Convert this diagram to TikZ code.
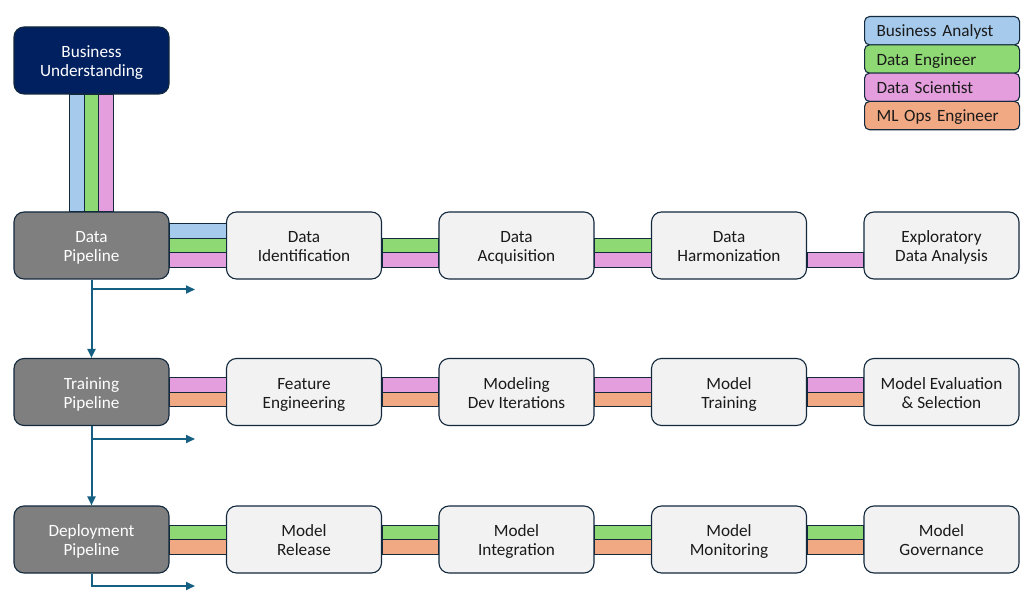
\documentclass[tikz,border=0pt]{standalone}
\usepackage{fontspec}
\setmainfont{Carlito}
\usetikzlibrary{arrows.meta}
\definecolor{navy}{HTML}{002060}
\definecolor{pgray}{HTML}{7F7F7F}
\definecolor{light}{HTML}{F2F2F2}
\definecolor{edge}{HTML}{13293D}
\definecolor{txt}{HTML}{1A1A1A}
\definecolor{arrowc}{HTML}{156082}
\definecolor{cBA}{HTML}{A6CAEC}
\definecolor{cDE}{HTML}{8ED973}
\definecolor{cDS}{HTML}{E49EDD}
\definecolor{cML}{HTML}{F1A983}
\newcommand\hseg[5]{\filldraw[barseg, fill=#5] ([yshift=#3]#1.east) rectangle ([yshift=#4]#2.west);}
\newcommand\tx[2]{\raisebox{-16.3pt}[0pt][0pt]{\begin{tabular}[b]{@{}c@{}}#1\\#2\end{tabular}}}
\newcommand\legtop{\rule{0pt}{17.8pt}\strut}
\begin{document}
\begin{tikzpicture}[x=1pt,y=-1pt,
  box/.style={draw=edge, line width=1.1pt, rounded corners=10pt, minimum width=155pt,
    minimum height=67pt, font=\fontsize{17.2}{19}\selectfont, inner sep=0pt},
  stage/.style={box, fill=light, text=txt},
  pipe/.style={box, fill=pgray, text=white},
  head/.style={box, fill=navy, text=white},
  leg/.style={draw=edge, line width=1.1pt, rounded corners=5pt, minimum width=155pt,
    minimum height=28.3pt, anchor=north west, text width=131pt, align=left,
    inner xsep=12pt, inner ysep=0pt, text=txt, font=\fontsize{17.2}{19}\selectfont,
    execute at begin node=\legtop},
  barseg/.style={draw=edge, line width=0.9pt},
  arr/.style={draw=arrowc, line width=2pt, -{Triangle[length=9pt,width=8pt]}}]
\useasboundingbox (0,0) rectangle (1036,612);
\fill[white] (0,0) rectangle (1036,612);

% legend
\node[leg, fill=cBA] (l1) at (864,16) {Business Analyst};
\node[leg, fill=cDE] (l2) at (864,44.3) {Data Engineer};
\node[leg, fill=cDS] (l3) at (864,72.6) {Data Scientist};
\node[leg, fill=cML] (l4) at (864,100.9) {ML Ops Engineer};

% nodes
\node[head] (bu) at (91.5,60.5) {\tx{Business}{Understanding}};
\node[pipe] (dp) at (91.5,245.5) {\tx{Data}{Pipeline}};
\node[pipe] (tp) at (91.5,392) {\tx{Training}{Pipeline}};
\node[pipe] (dep) at (91.5,539.5) {\tx{Deployment}{Pipeline}};

\node[stage] (di) at (304,245.5) {\tx{Data}{Identification}};
\node[stage] (da) at (516.5,245.5) {\tx{Data}{Acquisition}};
\node[stage] (dh) at (729,245.5) {\tx{Data}{Harmonization}};
\node[stage] (eda) at (941.5,245.5) {\tx{Exploratory}{Data Analysis}};

\node[stage] (fe) at (304,392) {\tx{Feature}{Engineering}};
\node[stage] (md) at (516.5,392) {\tx{Modeling}{Dev Iterations}};
\node[stage] (mt) at (729,392) {\tx{Model}{Training}};
\node[stage] (me) at (941.5,392) {\tx{Model Evaluation}{\& Selection}};

\node[stage] (mr) at (304,539.5) {\tx{Model}{Release}};
\node[stage] (mi) at (516.5,539.5) {\tx{Model}{Integration}};
\node[stage] (mm) at (729,539.5) {\tx{Model}{Monitoring}};
\node[stage] (mg) at (941.5,539.5) {\tx{Model}{Governance}};

% vertical bars from business understanding
\filldraw[barseg, fill=cBA] ([xshift=-21.75pt]bu.south) rectangle ([xshift=-7.25pt]dp.north);
\filldraw[barseg, fill=cDE] ([xshift=-7.25pt]bu.south) rectangle ([xshift=7.25pt]dp.north);
\filldraw[barseg, fill=cDS] ([xshift=7.25pt]bu.south) rectangle ([xshift=21.75pt]dp.north);

% row 1 bars
\hseg{dp}{di}{21.75pt}{7.25pt}{cBA}
\hseg{dp}{di}{7.25pt}{-7.25pt}{cDE}
\hseg{dp}{di}{-7.25pt}{-21.75pt}{cDS}
\hseg{di}{da}{7.25pt}{-7.25pt}{cDE}
\hseg{di}{da}{-7.25pt}{-21.75pt}{cDS}
\hseg{da}{dh}{7.25pt}{-7.25pt}{cDE}
\hseg{da}{dh}{-7.25pt}{-21.75pt}{cDS}
\hseg{dh}{eda}{-7.25pt}{-21.75pt}{cDS}

% row 2 bars
\hseg{tp}{fe}{14.5pt}{0pt}{cDS}
\hseg{tp}{fe}{0pt}{-14.5pt}{cML}
\hseg{fe}{md}{14.5pt}{0pt}{cDS}
\hseg{fe}{md}{0pt}{-14.5pt}{cML}
\hseg{md}{mt}{14.5pt}{0pt}{cDS}
\hseg{md}{mt}{0pt}{-14.5pt}{cML}
\hseg{mt}{me}{14.5pt}{0pt}{cDS}
\hseg{mt}{me}{0pt}{-14.5pt}{cML}

% row 3 bars
\hseg{dep}{mr}{14.5pt}{0pt}{cDE}
\hseg{dep}{mr}{0pt}{-14.5pt}{cML}
\hseg{mr}{mi}{14.5pt}{0pt}{cDE}
\hseg{mr}{mi}{0pt}{-14.5pt}{cML}
\hseg{mi}{mm}{14.5pt}{0pt}{cDE}
\hseg{mi}{mm}{0pt}{-14.5pt}{cML}
\hseg{mm}{mg}{14.5pt}{0pt}{cDE}
\hseg{mm}{mg}{0pt}{-14.5pt}{cML}

% arrows
\coordinate (e1) at (195,289.5);
\coordinate (e2) at (195,439);
\coordinate (e3) at (195,586);
\draw[arr] (dp.south) -- (tp.north);
\draw[arr] (tp.south) -- (dep.north);
\draw[arr] (dp.south) |- (e1);
\draw[arr] (tp.south) |- (e2);
\draw[arr] (dep.south) |- (e3);
\end{tikzpicture}
\end{document}
